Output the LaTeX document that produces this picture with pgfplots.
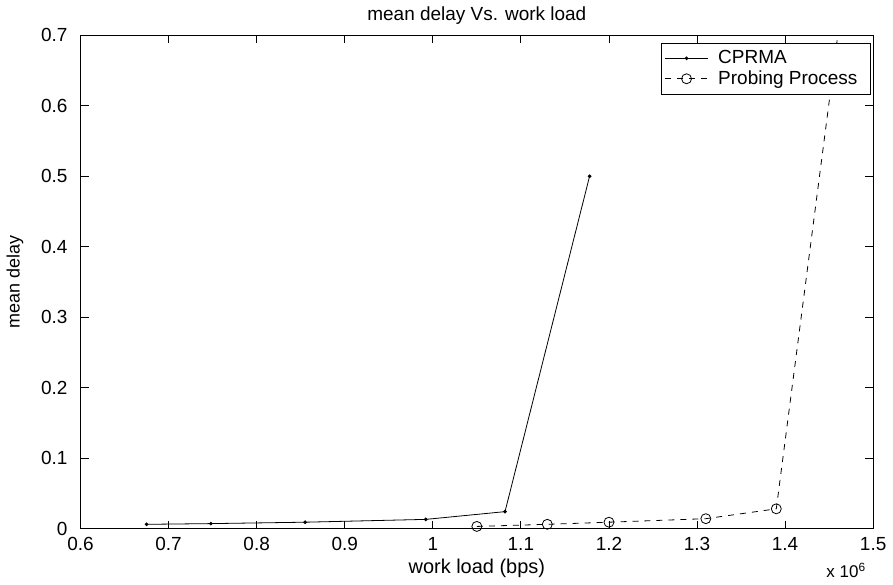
\documentclass[border=0pt]{standalone}
\usepackage{fontspec}
\setmainfont{Liberation Sans}
\usepackage{pgfplots}
\pgfplotsset{compat=1.18}

\begin{document}
\begin{tikzpicture}
\begin{axis}[
    scale only axis,
    width=397pt, height=247pt,
    xmin=0.6, xmax=1.5, ymin=0, ymax=0.7,
    xtick={0.6,0.7,...,1.5}, ytick={0,0.1,...,0.7},
    xticklabel style={/pgf/number format/fixed, /pgf/number format/precision=1, yshift=-1pt},
    yticklabel style={/pgf/number format/fixed, /pgf/number format/precision=1, xshift=-3pt},
    /pgf/number format/assume math mode=true,
    tick align=inside, major tick length=4pt,
    tick style={black, thin},
    axis line style={black, thin},
    ticklabel style={font=\fontsize{9.5}{10}\selectfont},
    title={mean delay Vs. work load},
    title style={font=\fontsize{9.5}{10}\selectfont, yshift=-4pt},
    xlabel={work load (bps)},
    ylabel={mean delay},
    xlabel style={font=\fontsize{10}{11}\selectfont, yshift=3pt},
    ylabel style={font=\fontsize{9}{10}\selectfont, yshift=2pt},
    legend style={at={(0.997,0.985)}, anchor=north east, draw=black, thin,
        font=\fontsize{9.5}{10}\selectfont, row sep=-2pt, inner sep=1.5pt,
        legend cell align=left, nodes={inner xsep=5pt}},
    legend image code/.code={
        \draw[#1, mark=none] (0cm,0cm) -- (0.75cm,0cm);
        \draw[#1, draw=none] plot coordinates {(0.375cm,0cm)};
    },
]
% CPRMA: solid line with dot markers
\addplot[black, thin, mark=*, mark size=0.7pt] coordinates {
    (0.675,0.006) (0.748,0.007) (0.855,0.009) (0.992,0.013)
    (1.082,0.024) (1.178,0.500)
};
\addlegendentry{CPRMA}
% Probing Process: dashed line with circle markers, last segment runs behind the legend
\addplot[black, thin, dashed, mark=o, mark size=2.5pt, mark options={solid},
    mark indices={1,2,3,4,5}] coordinates {
    (1.05,0.003) (1.13,0.006) (1.20,0.009) (1.31,0.014)
    (1.39,0.028) (1.465,0.75)
};
\addlegendentry{Probing Process}
\end{axis}
\node[font=\fontsize{8.5}{9}\selectfont, anchor=north east] at (397pt,-14pt) {x 10\textsuperscript{6}};
\end{tikzpicture}
\end{document}
